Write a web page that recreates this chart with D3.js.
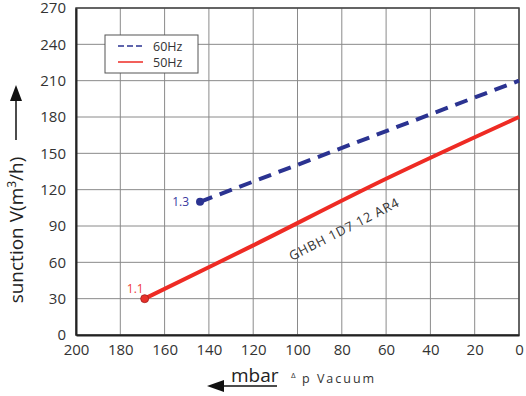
<!DOCTYPE html>
<html>
<head>
<meta charset="utf-8">
<script src="https://cdn.jsdelivr.net/npm/d3@7"></script>
<style>
  body { margin: 0; background: #fff; }
  text { font-family: "Open Sans", sans-serif; }
</style>
</head>
<body>
<div id="chart"></div>
<script>
// vacuum (mbar) and suction (m3/h)
let xTicks = [200, 180, 160, 140, 120, 100, 80, 60, 40, 20, 0];
let yTicks = [0, 30, 60, 90, 120, 150, 180, 210, 240, 270];
let hz50Vacuum = [169, 120, 60, 0];
let hz50Flow = [30, 74, 129, 180];
let hz60Vacuum = [144, 0];
let hz60Flow = [110, 210];

let margin = {top: 8, right: 7, bottom: 61, left: 76};
let totalWidth = 526;
let totalHeight = 396;
let innerWidth = totalWidth - margin.left - margin.right;
let innerHeight = totalHeight - margin.top - margin.bottom;

var x = d3.scaleLinear().domain([200, 0]).range([0, innerWidth]);
var y = d3.scaleLinear().domain([0, 270]).range([innerHeight, 0]);

var root = d3.select("#chart").append("svg")
    .attr("width", totalWidth)
    .attr("height", totalHeight);

var svg = root.append("g")
    .attr("transform", "translate(" + margin.left + "," + margin.top + ")");

// grid
svg.append("g")
    .selectAll("line")
    .data(xTicks)
    .enter().append("line")
    .attr("x1", d => x(d)).attr("x2", d => x(d))
    .attr("y1", 0).attr("y2", innerHeight)
    .style("stroke", "#8a8a8a").style("stroke-width", 1);
svg.append("g")
    .selectAll("line")
    .data(yTicks)
    .enter().append("line")
    .attr("x1", 0).attr("x2", innerWidth)
    .attr("y1", d => y(d)).attr("y2", d => y(d))
    .style("stroke", "#8a8a8a").style("stroke-width", 1);

// frame
svg.append("rect")
    .attr("width", innerWidth).attr("height", innerHeight)
    .style("fill", "none").style("stroke", "#444").style("stroke-width", 1.5);

// axes
var xAxis = svg.append("g")
    .attr("transform", "translate(0," + innerHeight + ")")
    .call(d3.axisBottom(x).tickValues(xTicks).tickSize(0).tickPadding(9));
var yAxis = svg.append("g")
    .call(d3.axisLeft(y).tickValues(yTicks).tickSize(0).tickPadding(10));
[xAxis, yAxis].forEach(function(a) {
    a.select(".domain").style("stroke", "#222").style("stroke-width", 2);
    a.selectAll("text")
        .style("font-family", "'Open Sans', sans-serif")
        .style("font-size", "15px")
        .style("fill", "#333");
});

var line = d3.line()
    .x(d => x(d[0]))
    .y(d => y(d[1]))
    .curve(d3.curveCatmullRom);

let hz50 = hz50Vacuum.map((v, i) => [v, hz50Flow[i]]);
let hz60 = hz60Vacuum.map((v, i) => [v, hz60Flow[i]]);

svg.append("path")
    .datum(hz60)
    .attr("d", line)
    .style("fill", "none")
    .style("stroke", "#2b3391")
    .style("stroke-width", 4)
    .style("stroke-dasharray", "13,8");

svg.append("path")
    .datum(hz50)
    .attr("d", line)
    .style("fill", "none")
    .style("stroke", "#ee2b24")
    .style("stroke-width", 4);

// start points
svg.append("circle")
    .attr("cx", x(hz60[0][0])).attr("cy", y(hz60[0][1])).attr("r", 4)
    .style("fill", "#2b3391");
svg.append("text")
    .attr("x", x(hz60[0][0]) - 11).attr("y", y(hz60[0][1]) + 4)
    .style("text-anchor", "end").style("font-size", "12px").style("fill", "#3a3aa0")
    .text("1.3");

svg.append("circle")
    .attr("cx", x(hz50[0][0])).attr("cy", y(hz50[0][1])).attr("r", 4)
    .style("fill", "#e8302a").style("stroke", "#a02020").style("stroke-width", 0.8);
svg.append("text")
    .attr("x", x(hz50[0][0]) - 1).attr("y", y(hz50[0][1]) - 6)
    .style("text-anchor", "end").style("font-size", "12px").style("fill", "#f04040")
    .text("1.1");

// model label along the red line
svg.append("text")
    .attr("transform", "translate(" + x(78) + "," + y(84) + ") rotate(-27)")
    .style("text-anchor", "middle")
    .style("font-size", "13px")
    .style("letter-spacing", "0.8px")
    .style("fill", "#333")
    .text("GHBH 1D7 12 AR4");

// legend
var legend = root.append("g").attr("transform", "translate(105,35)");
legend.append("rect")
    .attr("width", 93).attr("height", 38)
    .style("fill", "#fff").style("stroke", "#555").style("stroke-width", 1);
legend.append("line")
    .attr("x1", 13).attr("x2", 38).attr("y1", 11).attr("y2", 11)
    .style("stroke", "#2b3391").style("stroke-width", 1.5).style("stroke-dasharray", "6,3");
legend.append("line")
    .attr("x1", 13).attr("x2", 38).attr("y1", 27).attr("y2", 27)
    .style("stroke", "#ee2b24").style("stroke-width", 1.5);
legend.append("text").attr("x", 48).attr("y", 16)
    .style("font-size", "12.5px").style("fill", "#333").text("60Hz");
legend.append("text").attr("x", 48).attr("y", 32)
    .style("font-size", "12.5px").style("fill", "#333").text("50Hz");

// y axis title with arrow
root.append("text")
    .attr("transform", "translate(23,230) rotate(-90)")
    .style("text-anchor", "middle")
    .style("font-size", "19px")
    .style("fill", "#222")
    .html("sunction V(m<tspan dy='-7' font-size='12'>3</tspan><tspan dy='7'>/h)</tspan>");
root.append("line")
    .attr("x1", 16).attr("x2", 16).attr("y1", 140).attr("y2", 98)
    .style("stroke", "#111").style("stroke-width", 1.5);
root.append("path")
    .attr("d", "M16,85 L10,101 L22,101 Z")
    .style("fill", "#111");

// x axis title with arrow
root.append("line")
    .attr("x1", 220).attr("x2", 277).attr("y1", 386).attr("y2", 386)
    .style("stroke", "#111").style("stroke-width", 1.5);
root.append("path")
    .attr("d", "M207,386 L224,380 L224,392 Z")
    .style("fill", "#111");
root.append("text")
    .attr("x", 231).attr("y", 382)
    .style("font-size", "19px").style("fill", "#222")
    .text("mbar");
root.append("text")
    .attr("x", 291).attr("y", 378)
    .style("font-size", "8px").style("fill", "#333")
    .text("\u0394");
root.append("text")
    .attr("x", 302).attr("y", 383)
    .style("font-size", "12.5px").style("letter-spacing", "2px").style("fill", "#333")
    .text("p Vacuum");
</script>
</body>
</html>
